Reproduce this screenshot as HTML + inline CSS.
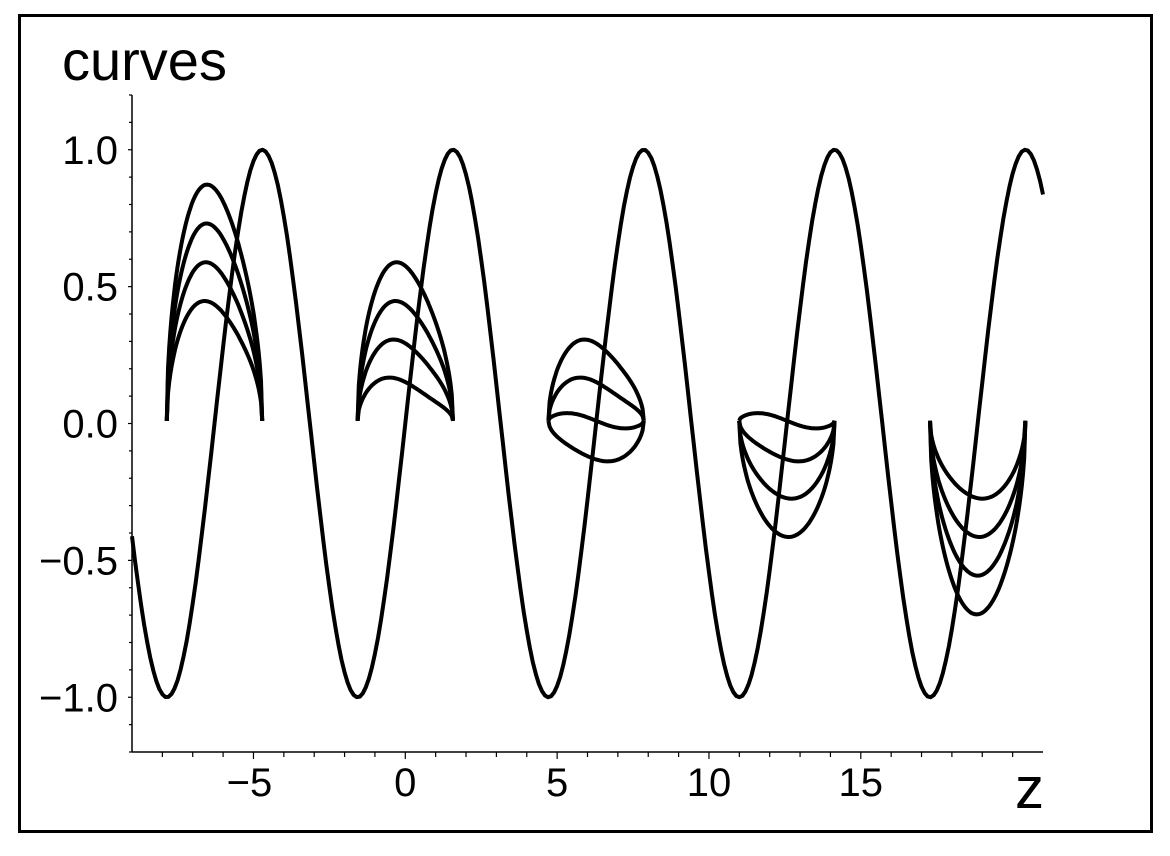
<!DOCTYPE html>
<html><head><meta charset="utf-8"><style>
html,body{margin:0;padding:0;background:#fff;}
svg text{font-family:"Liberation Sans",sans-serif;fill:#000;}
</style></head><body>
<svg id="chart" width="1170" height="851" viewBox="0 0 1170 851" xmlns="http://www.w3.org/2000/svg">
<rect x="19.5" y="15.5" width="1132" height="816" fill="#fff" stroke="#000" stroke-width="3"/>
<text x="62" y="80" font-size="56">curves</text>
<text x="1015" y="808" font-size="58">z</text>
<g id="axes"></g>
<g id="marks"></g>
</svg>
<script>
const xTicks = [-5, 0, 5, 10, 15];
const xTickLabels = ["\u22125", "0", "5", "10", "15"];
const yTicks = [-1, -0.5, 0, 0.5, 1];
const yTickLabels = ["\u22121.0", "\u22120.5", "0.0", "0.5", "1.0"];
const xDomain = [-9, 21];
const yDomain = [-1.2, 1.2];
// family groups: start of interval (multiples of pi) and curve amplitudes (units of sqrt2/10)
const groupStarts = [-2.5, -0.5, 1.5, 3.5, 5.5];
const groupAmps = [[6,5,4,3],[4,3,2,1],[2,1,0,-1],[0,-1,-2,-3],[-2,-3,-4,-5]];

const X0=132, X1=1043, Y0=752, Y1=95;
const sx = v => X0 + (v - xDomain[0]) / (xDomain[1]-xDomain[0]) * (X1-X0);
const sy = v => Y0 - (v - yDomain[0]) / (yDomain[1]-yDomain[0]) * (Y0-Y1);
const NS = "http://www.w3.org/2000/svg";
const axes = document.getElementById('axes'), marks = document.getElementById('marks');
function mk(tag, attrs, parent){const e=document.createElementNS(NS,tag);for(const k in attrs)e.setAttribute(k,attrs[k]);parent.appendChild(e);return e;}

let a = mk('line',{x1:X0,y1:Y1,x2:X0,y2:Y0,stroke:'#000','stroke-width':1.5},axes);


a = mk('line',{x1:X0,y1:Y0,x2:X1,y2:Y0,stroke:'#000','stroke-width':1.5},axes);


for(let v=-8; v<=20; v++){
  const major = xTicks.includes(v);
  const t = mk('line',{x1:sx(v),y1:Y0,x2:sx(v),y2:Y0+(major?7:5),stroke:'#000','stroke-width':1.2},axes);
  
  
}
for(let i=-12;i<=12;i++){
  const v=i/10;
  const t = mk('line',{x1:X0-(i%5===0?4:3),y1:sy(v),x2:X0,y2:sy(v),stroke:'#000','stroke-width':1.2},axes);
  
  
}
xTicks.forEach((v,i)=>{
  const t = mk('text',{x:sx(v)-(v<0?4:0),y:796,'font-size':40,'text-anchor':'middle'},axes);
  t.textContent = xTickLabels[i];
  
  
});
yTicks.forEach((v,i)=>{
  const t = mk('text',{x:118,y:sy(v)+14,'font-size':40,'text-anchor':'end'},axes);
  t.textContent = yTickLabels[i];
  
  
});

// sine curve
let d='';
for(let i=0;i<=300;i++){const z=xDomain[0]+i*(xDomain[1]-xDomain[0])/300;d+=(i?'L':'M')+sx(z).toFixed(1)+','+sy(Math.sin(z)).toFixed(1);}
let p = mk('path',{d:d,fill:'none',stroke:'#000','stroke-width':4,'stroke-linejoin':'round'},marks);



const unit = Math.SQRT2/10;
groupStarts.forEach((s,g)=>{
  groupAmps[g].forEach((c,k)=>{
    let dd='';
    for(let i=0;i<=80;i++){
      const u=-Math.PI/2+i*Math.PI/80;
      const z=s*Math.PI+i*Math.PI/80;
      const cu=Math.max(Math.cos(u),0);
      const y=c*unit*Math.pow(cu,0.5)*(1-0.08*Math.sin(u)) - 0.045*Math.sin(u)*Math.pow(cu,0.5) + 0.01;
      dd+=(i?'L':'M')+sx(z).toFixed(1)+','+sy(y).toFixed(1);
    }
    const q = mk('path',{d:dd,fill:'none',stroke:'#000','stroke-width':4,'stroke-linejoin':'round'},marks);
    
    
  });
});
</script>
</body></html>
